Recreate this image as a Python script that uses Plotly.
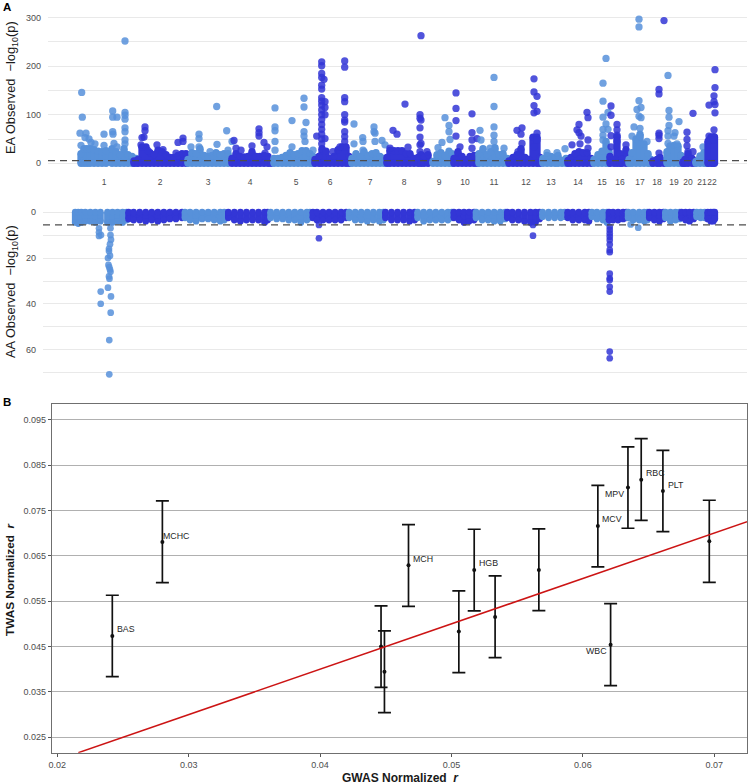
import plotly.graph_objects as go

W, H = 749, 784
CHR_NAMES = [str(i) for i in range(1, 23)]
CHR_TICKS = [104, 160, 208, 250, 296, 330, 370, 404, 439, 465, 494, 526, 551, 578, 602, 620, 640, 657, 674, 688, 702, 712]
EA_THRESHOLD = 5.5
AA_THRESHOLD = 5.6

# ---------- Panel A, EA: dense band tops (position, -log10 p) ----------
EA_COLS_1 = [(81,20),(84,30),(87,30),(90,30),(94,28),(98,25),(102,24),(106,26),(112,30),(116,24),(120,18),(124,30),(128,18),(132,14),(136,10)]
EA_COLS_2 = [(134,5),(138,8),(142,34),(146,34),(150,22),(154,18),(158,27),(162,24),(166,18),(170,12),(174,12),(178,16),(182,20),(186,20)]
EA_COLS_3 = [(188,8),(192,22),(196,20),(200,30),(204,16),(208,14),(212,16),(216,22),(220,18),(224,20),(228,20)]
EA_COLS_4 = [(232,10),(236,20),(240,14),(244,13),(248,14),(252,24),(256,14),(260,14),(264,16),(268,14),(271,6)]
EA_COLS_5 = [(274,10),(278,10),(282,12),(286,16),(290,22),(294,18),(298,20),(302,26),(306,26),(310,20),(313,14)]
EA_COLS_6 = [(315,8),(319,14),(322,30),(326,25),(330,10),(334,14),(338,28),(342,34),(346,34),(349,14)]
EA_COLS_7 = [(352,10),(356,20),(360,14),(364,24),(368,16),(372,20),(376,22),(380,14),(384,10)]
EA_COLS_8 = [(387,12),(390,27),(394,26),(398,26),(402,26),(406,20),(410,20),(414,10),(418,12),(421,18),(424,14),(428,18)]
EA_COLS_9 = [(433,4),(437,18),(441,22),(445,16),(449,25),(452,20)]
EA_COLS_10 = [(454,10),(458,24),(462,14),(466,8),(470,14),(474,16),(477,14)]
EA_COLS_11 = [(479,20),(483,30),(487,18),(491,24),(495,32),(499,18),(503,20),(507,10)]
EA_COLS_12 = [(509,5),(513,12),(517,18),(521,30),(525,12),(529,8),(533,54),(537,54),(540,12)]
EA_COLS_13 = [(543,10),(547,16),(551,14),(555,12),(558,16),(562,6),(566,10)]
EA_COLS_14 = [(568,6),(571,12),(575,20),(579,24),(583,22),(587,22),(591,10)]
EA_COLS_15 = [(594,8),(598,18),(602,25),(606,45),(609,24)]
EA_COLS_16 = [(610,14),(614,8),(617,55),(620,20),(622,8),(626,28)]
EA_COLS_17 = [(629,8),(632,22),(636,50),(640,60),(644,40),(648,20),(651,8)]
EA_COLS_18 = [(653,5),(657,8),(660,12),(664,5)]
EA_COLS_19 = [(667,24),(670,36),(674,37),(678,36),(681,16)]
EA_COLS_20 = [(683,3),(685,8),(688,20),(692,10),(695,5)]
EA_COLS_21 = [(696,4),(700,15),(704,22),(707,22)]
EA_COLS_22 = [(708,45),(711,54),(713,54),(714.5,54)]

# ---------- Panel A, EA: separately readable points ----------
EA_HITS_1 = [(81.7,146),(82.3,95),(80,62),(86,62),(85,53),(89,50),(91,43),(95,40),(81,37),(104,60),(104,37),(112.7,108),(112.7,95),(117,95),(112.7,65),(113,60),(114,41),(125,252),(125,105),(125,99),(125,91),(125,73),(125,65),(125,48),(125,40),(117,34)]
EA_HITS_2 = [(145,75),(145,67),(144,54),(142,53),(141,38),(157,38),(148,26),(163,28),(183,52),(183,45),(178,43),(176,21)]
EA_HITS_3 = [(199,60),(199,51),(199,34),(191,34),(216.7,117),(217,39),(226.7,67),(228,27),(210,24),(232,45)]
EA_HITS_4 = [(234,47),(236,31),(241,27),(252,36),(259,71),(259,63),(259,56),(264,43),(267,34),(265,21)]
EA_HITS_5 = [(275,114),(275,75),(275,67),(275,45),(275,27),(292,88),(292,34),(304,134),(304,116),(306,84),(304,65),(304,56),(305,45),(313,27)]
EA_HITS_6 = [(321.7,209),(321.7,201),(321.7,185),(321.7,177),(324,173),(321.7,161),(321.7,153),(321.7,135),(321.7,128),(321.7,120),(321.7,110),(321.7,100),(321.7,90),(321.7,80),(321.7,70),(321.7,60),(321.7,50),(321.7,40),(325,127),(325,115),(325,100),(316.7,56),(325,51),(344.7,211),(344.7,198),(344.7,135),(344.7,127),(344.7,100),(344.7,89),(344.7,85),(344.7,65),(344.7,55),(344.7,45),(340,34),(333,24)]
EA_HITS_7 = [(354,81),(354,40),(374,75),(374,65),(362.7,53),(363,45),(363,27),(375,62),(375,45),(382,47),(385,38)]
EA_HITS_8 = [(393,68),(397,60),(390,31),(408,33),(405,122),(420,100),(420,93),(420,73),(420,54),(420,38),(420,24),(421,263),(421,89),(421,41),(427,24)]
EA_HITS_9 = [(445,94),(449,78),(449,65),(442,43),(438,32),(450,49)]
EA_HITS_10 = [(456,145),(456,113),(456,88),(456,56),(460,34),(472,102),(472,63),(472,48),(477,51),(472,31)]
EA_HITS_11 = [(480,68),(481,48),(494,177),(494,117),(494,75),(494,58),(494,45),(490,31),(504,31)]
EA_HITS_12 = [(517,68),(522,73),(521,60),(522,41),(518,24),(534,174),(534,147),(537,138),(534,119),(537,107),(534,104),(537,62),(537,48),(534,34)]
EA_HITS_13 = [(565,30),(547,22),(557,22)]
EA_HITS_14 = [(579,80),(577,69),(579,63),(581,56),(572,38),(580,40),(587,105),(588,94),(588,48),(588,31)]
EA_HITS_15 = [(606,216),(603,165),(603,128),(608,105),(603,95),(606,81),(603,70),(608,70),(603,58),(603,48)]
EA_HITS_16 = [(611,118),(611,99),(611,57),(611,34),(617,80),(617,69),(617,58),(617,45),(626,38)]
EA_HITS_17 = [(639,297),(639,281),(639,129),(637,111),(641,115),(639,97),(641,94),(634,75),(640,72),(632,56),(640,55),(647,45)]
EA_HITS_18 = [(664,294),(659,152),(659,143),(659,62),(659,58),(659,51),(659,21)]
EA_HITS_19 = [(668,181),(669,109),(669,95),(669,78),(679,86),(668,67),(675,63),(674,56),(668,56),(668,41),(677,40)]
EA_HITS_20 = [(693,103),(687,64),(687,49),(687,36),(688,24),(693,24)]
EA_HITS_21 = [(703,34)]
EA_HITS_22 = [(715,193),(715,156),(714,139),(714,127),(709,120),(715,121),(715,104),(714,69),(709,56),(714,55),(709,48),(714,48)]

# ---------- Panel A, AA: dense band depths ----------
AA_COLS_1 = [(80,4.5),(83,5),(86,4.5),(90,4),(95,4),(100,4.5),(105,4),(112,4.5),(117,4.5),(122,4),(127,4.5),(131,3.5)]
AA_COLS_2 = [(133,3),(138,3.5),(144,3.5),(150,4),(156,3.5),(162,4),(168,3.5),(174,3),(180,3),(186,2.5)]
AA_COLS_3 = [(189,2.5),(194,3.5),(200,4),(206,3),(212,3),(218,3.5),(224,4),(228,3.5)]
AA_COLS_4 = [(232,2.5),(238,3.5),(244,4),(250,3.5),(256,3.5),(262,3.5),(268,4.5),(271,3.5)]
AA_COLS_5 = [(274,2.5),(280,3),(286,3),(292,3.5),(298,3.5),(304,4.5),(310,3.5),(313,2.5)]
AA_COLS_6 = [(316,2.5),(320,3.5),(326,3.5),(332,3.5),(338,3.5),(344,3.5),(349,2.5)]
AA_COLS_7 = [(352,2.5),(358,3.5),(364,3.5),(370,4),(376,3.5),(382,4),(386,3.5)]
AA_COLS_8 = [(388,2.5),(394,3.5),(400,3.5),(406,3.5),(412,4),(417,3.5)]
AA_COLS_9 = [(420,2.5),(426,4),(432,3.5),(438,3.5),(444,3.5),(450,3.5),(454,2.5)]
AA_COLS_10 = [(456,2.5),(461,3.5),(466,4.5),(471,4),(476,3.5)]
AA_COLS_11 = [(478,2.5),(484,3.5),(490,3.5),(496,4),(502,4),(507,3)]
AA_COLS_12 = [(509,2.5),(514,3.5),(520,3.5),(526,4),(532,4.5),(537,4.5),(541,3)]
AA_COLS_13 = [(544,2),(550,2.5),(556,2.5),(562,2.5),(566,2)]
AA_COLS_14 = [(569,2.5),(574,3.5),(580,3.5),(586,3.5),(590,4)]
AA_COLS_15 = [(593,2),(598,3),(604,3.5),(608,4.5)]
AA_COLS_16 = [(610,3.5),(614,3.5),(619,3.5),(624,3),(627,2.5)]
AA_COLS_17 = [(629,2.5),(634,3.5),(640,3.5),(645,4),(648,3.5)]
AA_COLS_18 = [(650,2.5),(655,3.5),(660,4),(664,3)]
AA_COLS_19 = [(666,2.5),(671,4),(676,3.5),(680,3)]
AA_COLS_20 = [(682,2.5),(686,3.5),(690,4),(694,3)]
AA_COLS_21 = [(697,2),(701,2.5),(705,2.5)]
AA_COLS_22 = [(708,3),(711,4),(713.5,4),(715,3)]

# ---------- Panel A, AA: separately readable points ----------
AA_HITS_1 = [(103.6,7.1),(103.6,8.8),(103.6,10.4),(105.6,10),(105.3,34.6),(105.3,39.9),(112.5,32.9),(115.5,36.7),(115.2,43.8),(113.8,55.7),(113.8,70.6),(115,7),(115,10),(115.5,12),(114.5,14),(113.5,16),(113.5,17),(114.5,19),(112.5,20),(113,23),(113.8,24),(114.5,25),(115,26),(113.5,28),(114,29)]
AA_HITS_6 = [(322,11.4),(322,5.6)]
AA_HITS_12 = [(534.5,10.3),(534.5,5.6)]
AA_HITS_16 = [(610.7,6.4),(610.7,7.8),(610.7,9.3),(610.7,10.7),(610.7,12.2),(610.7,14.1),(610.7,16.5),(610.7,17.5),(610.7,26.8),(610.7,28.8),(610.7,29.6),(610.7,32.5),(610.7,34.6),(610.7,60.7),(610.7,63.6)]
AA_HITS_17 = [(631.5,5.4),(639,6.8)]

# ---------- Panel B ----------
GWAS_R = [0.02419, 0.0280, 0.04673, 0.04464, 0.0449, 0.05056, 0.05173, 0.05332, 0.05665, 0.06114, 0.06211, 0.06343, 0.06444, 0.06609, 0.06962]
TWAS_R = [0.04734, 0.06805, 0.0629, 0.0450, 0.03947, 0.04829, 0.06188, 0.05152, 0.06188, 0.07158, 0.04542, 0.08003, 0.08179, 0.0793, 0.0682]
TWAS_HI = [0.0563, 0.0771, 0.07187, 0.05395, 0.04844, 0.05725, 0.07085, 0.06056, 0.07092, 0.08054, 0.05446, 0.0890, 0.09083, 0.08826, 0.07724]
TWAS_LO = [0.03837, 0.0591, 0.05387, 0.0360, 0.03044, 0.03925, 0.05285, 0.04256, 0.05292, 0.06254, 0.03639, 0.07107, 0.07283, 0.07033, 0.05916]
TRAITS = ["BAS", "MCHC", "MCH", "", "", "", "HGB", "", "", "MCV", "WBC", "MPV", "RBC", "PLT", ""]
LABEL_DX = [2.3, -1, 2.3, 0, 0, 0, 2.3, 0, 0, 2, -2, -2.3, 2.3, 3, 0]
LABEL_ANCHOR = ["left", "left", "left", "left", "left", "left", "left", "left", "left", "left", "right", "right", "left", "left", "left"]
LABEL_DY = [6.7, 6.3, 6.7, 0, 0, 0, 6.7, 0, 0, 6.7, -6.7, -6.7, 6.7, 6, 0]
IDENTITY = [0.0216, 0.0725]
B_TICKS_Y = [0.025, 0.035, 0.045, 0.055, 0.065, 0.075, 0.085, 0.095]
B_TICKS_X = [0.02, 0.03, 0.04, 0.05, 0.06, 0.07]

LIGHT, DARK = "#5791DA", "#3336D6"
EA_COLS = [EA_COLS_1,EA_COLS_2,EA_COLS_3,EA_COLS_4,EA_COLS_5,EA_COLS_6,EA_COLS_7,EA_COLS_8,EA_COLS_9,EA_COLS_10,EA_COLS_11,EA_COLS_12,EA_COLS_13,EA_COLS_14,EA_COLS_15,EA_COLS_16,EA_COLS_17,EA_COLS_18,EA_COLS_19,EA_COLS_20,EA_COLS_21,EA_COLS_22]
EA_HITS = [EA_HITS_1,EA_HITS_2,EA_HITS_3,EA_HITS_4,EA_HITS_5,EA_HITS_6,EA_HITS_7,EA_HITS_8,EA_HITS_9,EA_HITS_10,EA_HITS_11,EA_HITS_12,EA_HITS_13,EA_HITS_14,EA_HITS_15,EA_HITS_16,EA_HITS_17,EA_HITS_18,EA_HITS_19,EA_HITS_20,EA_HITS_21,EA_HITS_22]
AA_COLS = [AA_COLS_1,AA_COLS_2,AA_COLS_3,AA_COLS_4,AA_COLS_5,AA_COLS_6,AA_COLS_7,AA_COLS_8,AA_COLS_9,AA_COLS_10,AA_COLS_11,AA_COLS_12,AA_COLS_13,AA_COLS_14,AA_COLS_15,AA_COLS_16,AA_COLS_17,AA_COLS_18,AA_COLS_19,AA_COLS_20,AA_COLS_21,AA_COLS_22]
AA_HITS = {1: AA_HITS_1, 6: AA_HITS_6, 12: AA_HITS_12, 16: AA_HITS_16, 17: AA_HITS_17}

fig = go.Figure()


def add_chrom(cols, hits, color, xa, ya, size):
    xs = [c[0] for c in cols]
    tops = [c[1] for c in cols]
    # solid band: each read top reaches down to zero
    fig.add_trace(go.Scatter(x=xs, y=tops, mode="markers", xaxis=xa, yaxis=ya, showlegend=False,
                             marker=dict(size=size, color=color, line=dict(width=0)),
                             error_y=dict(type="data", symmetric=False, array=[0] * len(tops), arrayminus=tops,
                                          color=color, thickness=size, width=0)))
    fig.add_trace(go.Scatter(x=xs, y=[0] * len(xs), mode="markers", xaxis=xa, yaxis=ya, showlegend=False,
                             marker=dict(size=size, color=color, line=dict(width=0))))
    if hits:
        fig.add_trace(go.Scatter(x=[h[0] for h in hits], y=[h[1] for h in hits], mode="markers",
                                 xaxis=xa, yaxis=ya, showlegend=False,
                                 marker=dict(size=size, color=color, opacity=0.85, line=dict(width=0))))


for i in range(22):
    color = LIGHT if i % 2 == 0 else DARK
    add_chrom(EA_COLS[i], EA_HITS[i], color, "x", "y", 7.3)
    add_chrom(AA_COLS[i], AA_HITS.get(i + 1), color, "x2", "y2", 6.7)

XR = [48, 747]
fig.add_trace(go.Scatter(x=XR, y=[EA_THRESHOLD] * 2, mode="lines", xaxis="x", yaxis="y", showlegend=False,
                         line=dict(color="#4d4d4d", width=1.4, dash="7px,5px")))
fig.add_trace(go.Scatter(x=XR, y=[AA_THRESHOLD] * 2, mode="lines", xaxis="x2", yaxis="y2", showlegend=False,
                         line=dict(color="#4d4d4d", width=1.4, dash="7px,5px")))

fig.add_trace(go.Scatter(x=GWAS_R, y=TWAS_R, mode="markers", xaxis="x3", yaxis="y3", showlegend=False,
                         marker=dict(size=4, color="#111111"),
                         error_y=dict(type="data", symmetric=False,
                                      array=[h - v for h, v in zip(TWAS_HI, TWAS_R)],
                                      arrayminus=[v - l for v, l in zip(TWAS_R, TWAS_LO)],
                                      color="#111111", thickness=1.7, width=6.5)))
fig.add_trace(go.Scatter(x=IDENTITY, y=IDENTITY, mode="lines", xaxis="x3", yaxis="y3", showlegend=False,
                         line=dict(color="#CC1414", width=1.5)))

annotations = []
for x, y, t, dx, dy, anchor in zip(GWAS_R, TWAS_R, TRAITS, LABEL_DX, LABEL_DY, LABEL_ANCHOR):
    if t:
        annotations.append(dict(x=x, y=y, xref="x3", yref="y3", text=t, showarrow=False,
                                xanchor=anchor, yanchor="middle",
                                xshift=dx, yshift=dy, font=dict(size=8.8, color="#262626"), align="left"))


def paper_text(px, py, text, size, color="#1a1a1a", angle=0, xanchor="center"):
    annotations.append(dict(x=px / W, y=1 - py / H, xref="paper", yref="paper", text=text, showarrow=False,
                            xanchor=xanchor, yanchor="middle", textangle=angle,
                            font=dict(size=size, color=color)))


paper_text(1, 7, "<b>A</b>", 11.5, "black", xanchor="left")
paper_text(1, 402, "<b>B</b>", 11.5, "black", xanchor="left")
paper_text(11, 88, "EA Observed  −log<sub>10</sub>(p)", 12.8, angle=-90)
paper_text(11, 292, "AA Observed  −log<sub>10</sub>(p)", 12.8, angle=-90)
paper_text(10, 579, "<b>TWAS Normalized  <i>r</i></b>", 11.8, angle=-90)
paper_text(400, 778, "<b>GWAS Normalized  <i>r</i></b>", 12)


def dom(a, b):
    return [a / W, b / W]


def vdom(top, bottom):
    return [1 - bottom / H, 1 - top / H]


TICKF = dict(size=9, color="#4d4d4d")
GRID = "#e9e9e9"
fig.update_layout(
    width=W, height=H, autosize=False, margin=dict(l=0, r=0, t=0, b=0),
    paper_bgcolor="white", plot_bgcolor="white", showlegend=False,
    font=dict(family="Liberation Sans, Arial, sans-serif"),
    annotations=annotations,
    xaxis=dict(domain=dom(48, 747), anchor="y", automargin=False, range=XR, tickmode="array", tickvals=CHR_TICKS, ticktext=CHR_NAMES,
               tickangle=0, tickfont=dict(size=8.5, color="#4d4d4d"), ticks="outside", ticklen=3,
               tickcolor="rgba(0,0,0,0)", showgrid=False, zeroline=False, showline=False),
    yaxis=dict(domain=vdom(8, 171), anchor="x", automargin=False, range=[-15.9, 320], tickmode="array", tickvals=[0, 100, 200, 300],
               tickfont=TICKF, ticks="", ticklabelstandoff=6, gridcolor=GRID, gridwidth=1.2, zeroline=False,
               minor=dict(tickmode="array", tickvals=[50, 150, 250], showgrid=True, gridcolor=GRID, gridwidth=0.8, ticks="")),
    xaxis2=dict(domain=dom(43, 747), anchor="y2", automargin=False, range=XR, showticklabels=False, ticks="", showgrid=False, zeroline=False,
                showline=False),
    yaxis2=dict(domain=vdom(204, 378), anchor="x2", automargin=False, range=[72.2, -3.5], tickmode="array", tickvals=[0, 20, 40, 60],
                tickfont=TICKF, ticks="", ticklabelstandoff=6, gridcolor=GRID, gridwidth=1.2, zeroline=False,
                minor=dict(tickmode="array", tickvals=[10, 30, 50, 70], showgrid=True, gridcolor=GRID, gridwidth=0.8, ticks="")),
    xaxis3=dict(domain=dom(52, 747), anchor="y3", automargin=False, range=[0.0196, 0.07249], tickmode="array", tickvals=B_TICKS_X,
                tickformat=".2f", tickfont=TICKF, ticks="outside", ticklen=3, tickcolor="#555555", showgrid=False,
                zeroline=False, showline=True, mirror=True, linecolor="#6f6f6f", linewidth=1.3),
    yaxis3=dict(domain=vdom(404, 752.7), anchor="x3", automargin=False, range=[0.0216, 0.09846], tickmode="array", tickvals=B_TICKS_Y,
                tickformat=".3f", tickfont=TICKF, ticks="outside", ticklen=3, tickcolor="#555555",
                showgrid=True, gridcolor="#b0b0b0", gridwidth=1, zeroline=False, showline=True, mirror=True,
                linecolor="#6f6f6f", linewidth=1.3),
)

fig.write_html("out.html", config=dict(displayModeBar=False),
               post_script="document.body.style.margin='0';document.documentElement.style.overflow='hidden';")
